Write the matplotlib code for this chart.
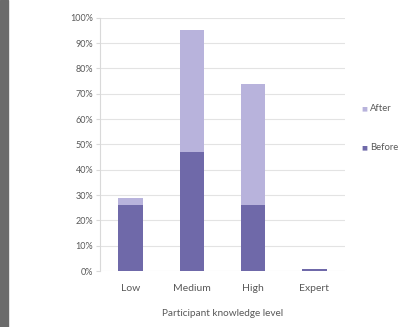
import numpy as np
import matplotlib
matplotlib.use('Agg')
import matplotlib.pyplot as plt
from matplotlib.patches import Rectangle
from matplotlib.ticker import PercentFormatter

categories = ['Low', 'Medium', 'High', 'Expert']
before = [26, 47, 26, 1]
after = [3, 48, 48, 0]
yticks = list(range(0, 101, 10))

c_before = '#6f69a9'
c_after = '#b8b3dc'
txt = '#595959'

plt.rcParams['font.family'] = ['Lato', 'DejaVu Sans']

fig = plt.figure(figsize=(4.02, 3.27), dpi=100)
fig.patch.set_facecolor('white')
# dark frame strip at the left edge of the screenshot
fig.patches.append(Rectangle((0, 0), 8 / 402, 1, transform=fig.transFigure,
                             color='#6b6b6b', zorder=0))

ax = fig.add_axes([0.249, 0.171, 0.609, 0.775])
x = np.arange(len(categories))
ax.bar(x, before, width=0.4, color=c_before, label='Before', zorder=3)
ax.bar(x, after, width=0.4, bottom=before, color=c_after, label='After', zorder=3)

ax.set_xlim(-0.5, 3.5)
ax.set_ylim(0, 100)
ax.set_yticks(yticks)
ax.yaxis.set_major_formatter(PercentFormatter(decimals=0))
ax.set_xticks(x)
ax.set_xticklabels(categories)
ax.grid(axis='y', color='#e3e3e3', linewidth=0.8, zorder=0)
for s in ['top', 'right', 'bottom']:
    ax.spines[s].set_visible(False)
ax.spines['left'].set_color('#d9d9d9')
ax.tick_params(axis='y', length=3, color='#d9d9d9', labelsize=6.5, labelcolor=txt, pad=2)
ax.tick_params(axis='x', length=0, labelsize=7.5, labelcolor=txt, pad=9)
ax.set_xlabel('Participant knowledge level', fontsize=7.2, color=txt, labelpad=12)

# legend on the right, partly clipped by the figure edge
fig.text(361 / 402, 1 - 109 / 327, '■', color=c_after, fontsize=4.5, va='center',
         family='DejaVu Sans')
fig.text(370 / 402, 1 - 109 / 327, 'After', color=txt, fontsize=6.8, va='center')
fig.text(361 / 402, 1 - 148 / 327, '■', color=c_before, fontsize=4.5, va='center',
         family='DejaVu Sans')
fig.text(370 / 402, 1 - 148 / 327, 'Before', color=txt, fontsize=6.8, va='center')

fig.savefig('out.png', dpi=100)
